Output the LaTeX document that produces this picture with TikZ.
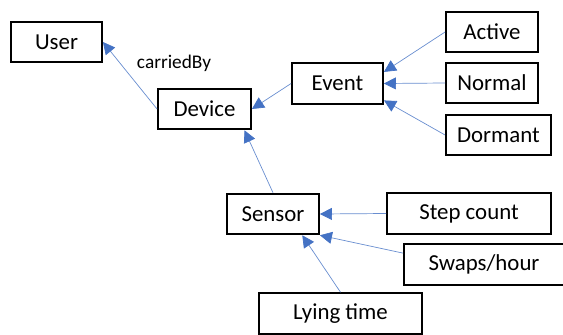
\documentclass[tikz,border=0pt]{standalone}
\usepackage{fontspec}
\setmainfont{Carlito}
\usetikzlibrary{arrows.meta}
\definecolor{linkblue}{HTML}{4472C4}

\begin{document}
\begin{tikzpicture}[x=0.03cm,y=-0.03cm,
    box/.style={draw, line width=1.6pt, inner sep=0pt, minimum height=1.22cm,
      font=\fontsize{19.5}{23}\selectfont},
    link/.style={draw=linkblue!80, line width=0.6pt,
      -{Triangle[length=0.36cm,width=0.36cm,color=linkblue,fill=linkblue]}}]
    \useasboundingbox (0,0) rectangle (563,334);
    \clip (0,0) rectangle (563,334);

\node[box, minimum width=2.73cm] (user) at (56.5,42) {User};
\node[box, minimum width=2.79cm] (device) at (204.5,109) {Device};
\node[box, minimum width=2.73cm] (event) at (337.5,83.5) {Event};
\node[box, minimum width=2.76cm] (active) at (492,32) {Active};
\node[box, minimum width=2.76cm] (normal) at (492,83) {Normal};
\node[box, minimum width=3.15cm] (dormant) at (498.5,135) {Dormant};
\node[box, minimum width=2.76cm] (sensor) at (273,214) {Sensor};
\node[box, minimum width=4.92cm] (step) at (469,213.5) {Step count};
\node[box, minimum width=4.8cm] (swaps) at (484,264.5) {Swaps/hour};
\node[box, minimum width=4.89cm] (lying) at (340.5,313.5) {Lying time};
\node[font=\fontsize{16.5}{20}\selectfont] (carried) at (174,63) {carriedBy};

\draw[link] (device.west) -- (user.east);
\draw[link] (event.west) -- (device.east);
\draw[link] (active.west) -- (event.14);
\draw[link] (normal.west) -- (event.east);
\draw[link] (dormant.west) -- (event.-20);
\draw[link] (sensor.north) -- (device.-28);
\draw[link] (step.west) -- (sensor.east);
\draw[link] (swaps.172) -- (sensor.south east);
\draw[link] (lying.north) -- (sensor.-36);
  \end{tikzpicture}
\end{document}
